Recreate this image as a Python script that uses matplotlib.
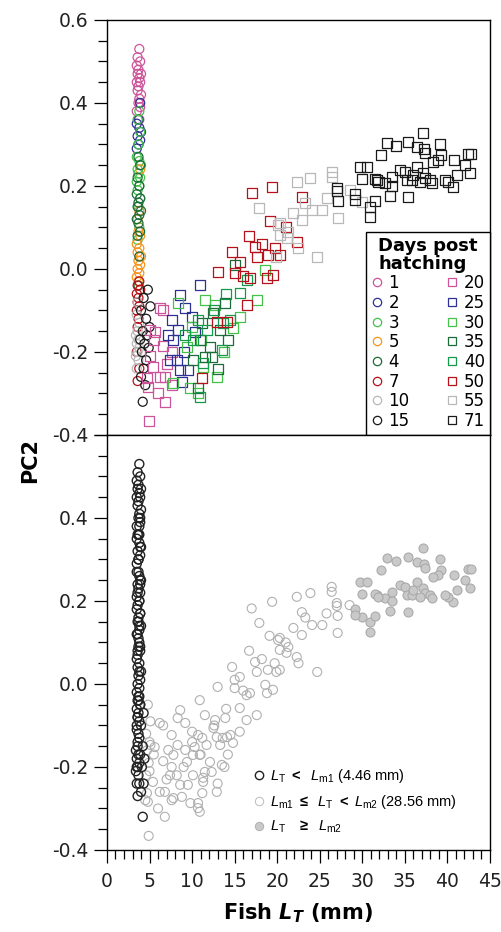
import numpy as np
import matplotlib
matplotlib.use("Agg")
import matplotlib.pyplot as plt
from matplotlib.lines import Line2D
from matplotlib.font_manager import FontProperties

plt.rcParams['font.family'] = ['DejaVu Sans']
plt.rcParams['axes.unicode_minus'] = False
plt.rcParams['mathtext.fontset'] = 'dejavusans'
plt.rcParams['mathtext.rm'] = 'Liberation Sans'
plt.rcParams['mathtext.it'] = 'Liberation Sans:italic'
plt.rcParams['mathtext.bf'] = 'Liberation Sans:bold'

# Size thresholds (mm)
lm1 = 4.46
lm2 = 28.56

# Early larvae (circles), days 1-15
d1_x = [3.8, 3.6, 3.9, 3.5, 3.7, 4.0, 3.6, 3.8, 3.5, 3.9, 3.7, 3.6, 4.0, 3.8, 3.7, 3.9, 3.5, 3.8]
d1_y = [0.53, 0.51, 0.50, 0.49, 0.48, 0.47, 0.47, 0.46, 0.45, 0.45, 0.44, 0.43, 0.42, 0.41, 0.40, 0.39, 0.38, 0.36]
d2_x = [3.9, 3.7, 3.5, 3.8, 3.6, 3.9, 3.7, 3.5, 4.0]
d2_y = [0.40, 0.36, 0.35, 0.34, 0.32, 0.31, 0.30, 0.29, 0.33]
d3_x = [3.8, 3.6, 3.9, 3.7, 3.5, 3.8, 4.0, 3.6, 3.7, 3.9, 3.5, 3.8, 3.6, 3.9, 3.7, 3.8, 3.6]
d3_y = [0.38, 0.36, 0.33, 0.30, 0.27, 0.26, 0.25, 0.24, 0.23, 0.22, 0.21, 0.20, 0.19, 0.17, 0.15, 0.10, 0.07]
d4_x = [3.7, 3.9, 3.6, 3.8, 3.5, 3.9, 3.7, 3.6, 4.0, 3.8, 3.5, 3.7, 3.9, 3.6, 3.8, 3.7]
d4_y = [0.27, 0.25, 0.22, 0.20, 0.18, 0.17, 0.16, 0.15, 0.14, 0.13, 0.12, 0.11, 0.09, 0.08, 0.03, -0.04]
d5_x = [3.9, 3.8, 3.6, 3.7, 3.9, 3.5, 3.8, 3.6, 4.0, 3.7, 3.9, 3.6, 3.8, 3.5, 3.7, 3.9]
d5_y = [0.24, 0.14, 0.12, 0.09, 0.08, 0.06, 0.05, 0.04, 0.03, 0.02, 0.01, 0.00, -0.01, -0.02, -0.03, -0.05]
d7_x = [3.8, 3.6, 3.9, 3.5, 3.7, 3.6, 3.8, 3.5, 3.7, 3.6, 3.5, 3.8, 3.6]
d7_y = [-0.03, -0.04, -0.05, -0.06, -0.07, -0.08, -0.09, -0.10, -0.12, -0.14, -0.20, -0.24, -0.27]
d10_x = [3.6, 3.5, 3.8, 3.6, 3.4, 3.7, 3.5, 3.8, 3.6, 3.4, 3.7, 3.5]
d10_y = [-0.08, -0.11, -0.13, -0.15, -0.16, -0.17, -0.18, -0.19, -0.20, -0.21, -0.22, -0.24]
d15_x = [4.8, 4.3, 5.1, 4.0, 4.6, 5.0, 4.2, 4.7, 3.9, 4.4, 4.9, 4.1, 4.6, 4.3, 4.0, 4.5, 4.2]
d15_y = [-0.05, -0.07, -0.09, -0.10, -0.12, -0.14, -0.15, -0.16, -0.17, -0.18, -0.19, -0.20, -0.22, -0.24, -0.26, -0.28, -0.32]

# Juveniles (squares), days 20-71
d20_x = [6.2, 6.6, 5.1, 5.6, 6.6, 5.0, 7.6, 5.4, 6.2, 4.7, 6.8, 6.0, 4.8, 7.6, 6.8, 4.9, 5.5, 7.0]
d20_y = [-0.094, -0.10, -0.147, -0.152, -0.186, -0.21, -0.20, -0.236, -0.26, -0.263, -0.26, -0.30, -0.284, -0.28, -0.32, -0.366, -0.17, -0.23]
d25_x = [8.6, 10.9, 9.2, 10.0, 7.6, 8.3, 7.2, 7.8, 8.2, 7.4, 8.6, 9.5, 8.8, 10.3, 9.0]
d25_y = [-0.063, -0.039, -0.094, -0.115, -0.123, -0.147, -0.159, -0.171, -0.22, -0.22, -0.243, -0.243, -0.272, -0.152, -0.20]
d30_x = [8.3, 11.5, 10.0, 9.4, 7.8, 9.8, 11.3, 12.9, 10.7, 15.6, 12.7, 14.8, 17.6, 18.6, 11.0, 13.8]
d30_y = [-0.082, -0.075, -0.14, -0.188, -0.275, -0.287, -0.236, -0.26, -0.299, -0.115, -0.087, -0.142, -0.075, -0.002, -0.17, -0.20]
d35_x = [10.9, 12.1, 11.5, 13.3, 12.5, 13.9, 10.1, 10.7, 12.3, 14.2, 15.0, 11.2, 13.0]
d35_y = [-0.171, -0.188, -0.212, -0.147, -0.106, -0.082, -0.22, -0.287, -0.212, -0.17, 0.01, -0.13, -0.24]
d40_x = [10.1, 11.7, 13.6, 14.5, 9.2, 10.7, 13.5, 10.9, 11.3, 15.6, 16.4, 12.6, 14.0]
d40_y = [-0.171, -0.147, -0.13, -0.123, -0.159, -0.123, -0.195, -0.308, -0.226, -0.058, -0.027, -0.10, -0.06]
d50_x = [13.0, 15.0, 16.0, 16.8, 16.4, 12.9, 14.1, 11.2, 19.5, 18.8, 17.0, 19.4, 22.9, 19.1, 16.7, 14.7,
         17.4, 15.6, 17.6, 18.9, 19.7, 20.3, 22.3, 18.2, 21.0]
d50_y = [-0.007, -0.01, -0.016, -0.022, -0.087, -0.128, -0.128, -0.263, -0.014, -0.022, 0.182, 0.198, 0.173, 0.116, 0.080, 0.041,
         0.053, 0.017, 0.029, 0.034, 0.050, 0.034, 0.065, 0.06, 0.10]
d55_x = [22.3, 23.9, 17.9, 21.9, 24.1, 22.9, 20.1, 21.3, 20.3, 21.1, 22.5, 24.7, 19.9, 26.4, 26.4, 25.3,
         27.1, 20.3, 30.0, 28.5, 25.8, 23.3]
d55_y = [0.21, 0.219, 0.147, 0.135, 0.142, 0.118, 0.106, 0.089, 0.082, 0.075, 0.05, 0.029, 0.029, 0.234, 0.222, 0.142,
         0.123, 0.111, 0.161, 0.19, 0.17, 0.16]
d71_x = [27.0, 27.0, 27.1, 29.7, 30.5, 30.0, 29.1, 29.1, 30.9, 30.9, 31.5, 31.7, 32.7, 33.5, 33.5, 33.2, 32.2,
         32.9, 34.0, 35.4, 36.4, 37.1, 37.3, 37.4, 39.1, 39.2, 38.9, 38.3, 40.8, 42.4, 42.8, 42.1, 42.7, 41.1,
         40.7, 40.1, 39.7, 36.4, 34.4, 35.0, 35.2, 35.8, 36.0, 37.1, 37.4, 38.0, 38.2, 36.8, 35.4, 31.5, 31.9]
d71_y = [0.195, 0.188, 0.164, 0.246, 0.246, 0.217, 0.18, 0.166, 0.149, 0.125, 0.164, 0.215, 0.207, 0.222, 0.2, 0.176, 0.275,
         0.304, 0.296, 0.306, 0.294, 0.328, 0.289, 0.279, 0.301, 0.275, 0.263, 0.258, 0.263, 0.277, 0.277, 0.25, 0.231, 0.226,
         0.198, 0.21, 0.215, 0.246, 0.239, 0.234, 0.215, 0.215, 0.226, 0.231, 0.219, 0.215, 0.207, 0.21, 0.173, 0.217, 0.210]

pink = '#cc5599'
navy = '#2e3192'
lgreen = '#45c04a'
orange = '#f7941d'
dgreen = '#1e6b3a'
mgreen = '#14994a'
red = '#b5121b'
gray = '#b8b8b8'
black = '#1a1a1a'

circles = [('1', d1_x, d1_y, pink), ('2', d2_x, d2_y, navy), ('3', d3_x, d3_y, lgreen),
           ('5', d5_x, d5_y, orange), ('4', d4_x, d4_y, dgreen), ('7', d7_x, d7_y, red),
           ('10', d10_x, d10_y, gray), ('15', d15_x, d15_y, black)]
squares = [('20', d20_x, d20_y, pink), ('25', d25_x, d25_y, navy), ('30', d30_x, d30_y, lgreen),
           ('35', d35_x, d35_y, dgreen), ('40', d40_x, d40_y, mgreen), ('50', d50_x, d50_y, red),
           ('55', d55_x, d55_y, gray), ('71', d71_x, d71_y, black)]

fig = plt.figure(figsize=(5.02, 9.32), dpi=100)
ax1 = fig.add_axes([0.2131, 0.5333, 0.763, 0.4453])
ax2 = fig.add_axes([0.2131, 0.0880, 0.763, 0.4453])

# Top panel: by age
handles = []
for lab, xs, ys, c in circles:
    ax1.scatter(xs, ys, s=42, marker='o', facecolors='none', edgecolors=c, linewidths=0.9)
for lab, xs, ys, c in squares:
    ax1.scatter(xs, ys, s=52, marker='s', facecolors='none', edgecolors=c, linewidths=0.9)
for lab, xs, ys, c in circles:
    handles.append(Line2D([], [], ls='none', marker='o', ms=6, mfc='none', mec=c, mew=0.9, label=lab))
for lab, xs, ys, c in squares:
    handles.append(Line2D([], [], ls='none', marker='s', ms=6, mfc='none', mec=c, mew=0.9, label=lab))

leg = ax1.legend(handles=handles, ncol=2, loc='lower right', bbox_to_anchor=(1, 0), borderaxespad=0,
                 title='Days post\nhatching', fontsize=12, handlelength=0.7, handletextpad=0.35,
                 columnspacing=2.2, labelspacing=0.1, borderpad=0.3, fancybox=False,
                 framealpha=1, edgecolor='black')
leg.get_title().set_fontweight('bold')
leg.get_title().set_fontsize(13)
leg.get_title().set_linespacing(1.0)
leg.get_frame().set_linewidth(1.0)

# Bottom panel: by size class
all_x = np.concatenate([np.array(g[1]) for g in circles + squares])
all_y = np.concatenate([np.array(g[2]) for g in circles + squares])
small = all_x < lm1
mid = (all_x >= lm1) & (all_x < lm2)
big = all_x >= lm2
ax2.scatter(all_x[mid], all_y[mid], s=42, marker='o', facecolors='none', edgecolors='#b0b0b0', linewidths=0.8)
ax2.scatter(all_x[big], all_y[big], s=42, marker='o', facecolors='#c9c9c9', edgecolors='#aaaaaa', linewidths=0.8)
ax2.scatter(all_x[small], all_y[small], s=42, marker='o', facecolors='none', edgecolors='#222222', linewidths=1.0)

h2 = [Line2D([], [], ls='none', marker='o', ms=6, mfc='none', mec='#222222', mew=1.0),
      Line2D([], [], ls='none', marker='o', ms=6, mfc='none', mec='#bbbbbb', mew=0.7),
      Line2D([], [], ls='none', marker='o', ms=6, mfc='#c9c9c9', mec='#b0b0b0', mew=0.7)]
l2 = [r'$L_\mathrm{T}$ $\mathbf{<}$  $L_\mathrm{m1}$ (4.46 mm)',
      r'$L_\mathrm{m1}$ $\mathbf{\leq}$  $L_\mathrm{T}$ $\mathbf{<}$ $L_\mathrm{m2}$ (28.56 mm)',
      r'$L_\mathrm{T}$   $\mathbf{\geq}$  $L_\mathrm{m2}$']
fp = FontProperties(family='Liberation Sans', size=10.5, math_fontfamily='custom')
ax2.legend(h2, l2, loc='upper left', bbox_to_anchor=(0.385, 0.2), borderaxespad=0, borderpad=0,
           frameon=False, prop=fp, handlelength=0.6, handletextpad=0.5, labelspacing=0.55)

for ax in (ax1, ax2):
    ax.set_xlim(0, 45)
    ax.set_ylim(-0.4, 0.6)
    ax.set_yticks([-0.4, -0.2, 0.0, 0.2, 0.4, 0.6])
    ax.set_yticks(np.arange(-0.4, 0.601, 0.05), minor=True)
    ax.tick_params(axis='y', which='major', direction='out', length=9.5, width=0.9, labelsize=13.5,
                   pad=4, labelcolor='#222222')
    ax.tick_params(axis='y', which='minor', direction='out', length=6.5, width=0.9)
    for sp in ax.spines.values():
        sp.set_linewidth(1.0)

ax1.set_yticklabels(['-0.4', '-0.2', '0.0', '0.2', '0.4', '0.6'])
ax1.tick_params(axis='x', which='both', bottom=False, labelbottom=False)
ax2.set_yticklabels(['-0.4', '-0.2', '0.0', '0.2', '0.4', ''])
ax2.set_xticks(np.arange(0, 46, 5))
ax2.set_xticks(np.arange(0, 46, 1), minor=True)
ax2.tick_params(axis='x', which='major', direction='out', length=9.5, width=0.9, labelsize=13.5,
                pad=6, labelcolor='#222222')
ax2.tick_params(axis='x', which='minor', direction='out', length=6.5, width=0.9)

ax2.set_xlabel(r'Fish $\mathbfit{L_T}$ (mm)', fontsize=15, fontweight='bold', labelpad=8)
fig.text(0.06, 0.506, 'PC2', rotation=90, fontsize=15, fontweight='bold', ha='center', va='center')

fig.savefig('out.png', dpi=100)
